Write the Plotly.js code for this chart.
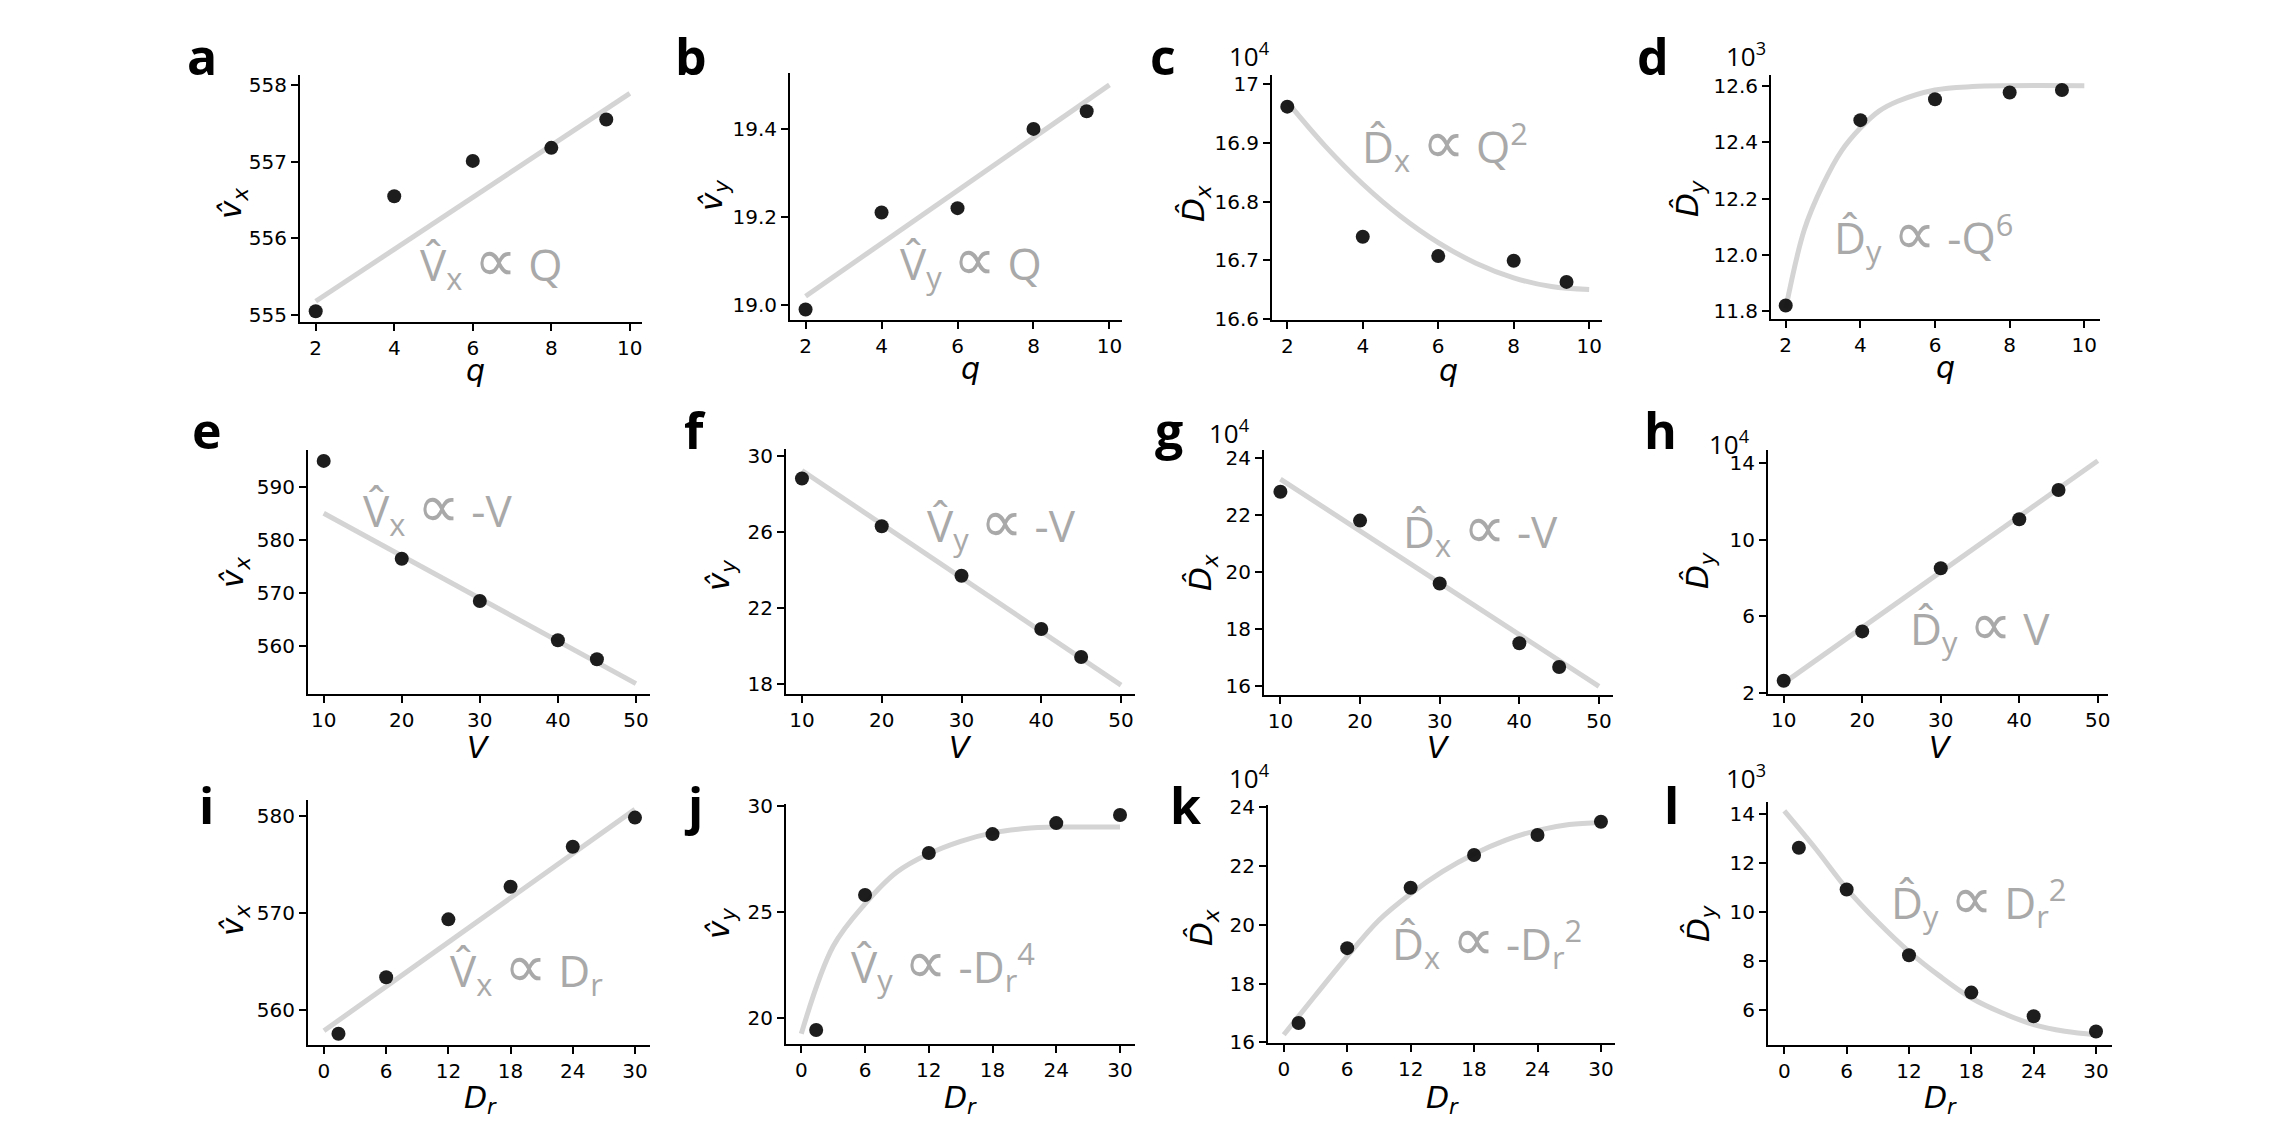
<!DOCTYPE html>
<html>
<head>
<meta charset="utf-8">
<script src="https://cdn.plot.ly/plotly-3.0.1.min.js"></script>
<style>html,body{margin:0;padding:0;background:#fff}</style>
</head>
<body>
<div id="fig" style="width:2293px;height:1138px"></div>
<script>
var W = 2293, H = 1138;

// parameter values on the x axes
var qVals = [2, 4, 6, 8, 9.4];
var vVals = [10, 20, 30, 40, 45];
var drVals = [1.4, 6, 12, 18, 24, 30];

// measured estimates (dots)
var vxQ = [555.05, 556.55, 557.01, 557.18, 557.55];
var vyQ = [18.99, 19.21, 19.22, 19.40, 19.44];
var dxQ = [16.962, 16.740, 16.707, 16.699, 16.663];
var dyQ = [11.821, 12.478, 12.552, 12.576, 12.585];
var vxV = [595.0, 576.5, 568.5, 561.1, 557.5];
var vyV = [28.84, 26.32, 23.72, 20.91, 19.44];
var dxV = [22.81, 21.80, 19.60, 17.51, 16.68];
var dyV = [2.64, 5.22, 8.52, 11.08, 12.61];
var vxDr = [557.6, 563.4, 569.35, 572.7, 576.8, 579.8];
var vyDr = [19.45, 25.82, 27.80, 28.69, 29.21, 29.59];
var dxDr = [16.66, 19.20, 21.25, 22.36, 23.04, 23.49];
var dyDr = [12.61, 10.91, 8.24, 6.72, 5.76, 5.14];

// fitted trend lines (grey)
var fitQLin = [2, 10];
var fitVxQ = [555.18, 557.89];
var fitVyQ = [19.02, 19.50];
var fitQCurve = [2, 3, 4, 5, 6, 7, 8, 9, 10];
var fitDxQ = [16.97, 16.895, 16.83, 16.775, 16.73, 16.695, 16.67, 16.655, 16.65];
var fitQCurve2 = [2, 2.5, 3, 3.5, 4, 4.5, 5, 6, 7, 8, 10];
var fitDyQ = [11.81, 12.09, 12.25, 12.37, 12.45, 12.51, 12.545, 12.585, 12.597, 12.6, 12.6];
var fitVLin = [10, 50];
var fitVxV = [585.1, 552.9];
var fitVyV = [29.26, 17.96];
var fitDxV = [23.25, 16.0];
var fitDyV = [2.52, 14.14];
var fitDrLin = [0, 30];
var fitVxDr = [557.9, 580.65];
var fitDrCurve = [0, 3, 6, 9, 12, 15, 18, 21, 24, 27, 30];
var fitVyDr = [19.27, 23.4, 25.4, 26.9, 27.76, 28.35, 28.75, 28.95, 29.02, 29.02, 29.02];
var fitDxDr = [16.26, 17.6, 18.92, 20.15, 21.05, 21.8, 22.4, 22.87, 23.2, 23.4, 23.47];
var fitDyDr = [14.11, 12.58, 10.95, 9.59, 8.39, 7.38, 6.5, 5.89, 5.42, 5.15, 5.01];

// tick labels
var qTicks = [2, 4, 6, 8, 10];
var vTicks = [10, 20, 30, 40, 50];
var drTicks = [0, 6, 12, 18, 24, 30];
var vxQTicks = [555, 556, 557, 558];
var vyQTicks = [19.0, 19.2, 19.4];
var vyQText = ['19.0', '19.2', '19.4'];
var dxQTicks = [16.6, 16.7, 16.8, 16.9, 17];
var dxQText = ['16.6', '16.7', '16.8', '16.9', '17'];
var dyQTicks = [11.8, 12.0, 12.2, 12.4, 12.6];
var dyQText = ['11.8', '12.0', '12.2', '12.4', '12.6'];
var vxVTicks = [560, 570, 580, 590];
var vyVTicks = [18, 22, 26, 30];
var dxVTicks = [16, 18, 20, 22, 24];
var dyVTicks = [2, 6, 10, 14];
var vxDrTicks = [560, 570, 580];
var vyDrTicks = [20, 25, 30];
var dxDrTicks = [16, 18, 20, 22, 24];
var dyDrTicks = [6, 8, 10, 12, 14];

var VX = '<i>v\u0302</i><sub><i>x</i></sub>';
var VY = '<i>v\u0302</i><sub><i>y</i></sub>';
var DX = '<i>D\u0302</i><sub><i>x</i></sub>';
var DY = '<i>D\u0302</i><sub><i>y</i></sub>';
var XQ = '<i>q</i>', XV = '<i>V</i>', XDR = '<i>D</i><sub><i>r</i></sub>';
var PROP = ' <span style="font-size:60px;font-weight:300">\u221D</span> ';

var panels = [
  {tag:'a', xs:qVals, ys:vxQ, fx:fitQLin, fy:fitVxQ, box:[300,642,75,322], xr:[1.6,10.31], yr:[554.91,558.13], xt:qTicks, yt:vxQTicks, ylab:VX, xlab:XQ, eq:'V\u0302<sub>x</sub>' + PROP + 'Q', eqAt:[4.61,555.67], ylabAt:[232,203], xlabAt:[475,370], tagAt:[185,56]},
  {tag:'b', xs:qVals, ys:vyQ, fx:fitQLin, fy:fitVyQ, box:[790,1122,73,320], xr:[1.59,10.33], yr:[18.966,19.527], xt:qTicks, yt:vyQTicks, ytt:vyQText, ylab:VY, xlab:XQ, eq:'V\u0302<sub>y</sub>' + PROP + 'Q', eqAt:[4.44,19.095], ylabAt:[713,195], xlabAt:[970,369], tagAt:[673,56]},
  {tag:'c', xs:qVals, ys:dxQ, fx:fitQCurve, fy:fitDxQ, spline:true, box:[1272,1602,75,320], xr:[1.595,10.34], yr:[16.598,17.016], xt:qTicks, yt:dxQTicks, ytt:dxQText, ylab:DX, xlab:XQ, eq:'D\u0302<sub>x</sub>' + PROP + 'Q<sup>2</sup>', eqAt:[3.93,16.895], ylabAt:[1195,203], xlabAt:[1448,370], tagAt:[1148,56], exp:'10<sup>4</sup>', expAt:[1272,55]},
  {tag:'d', xs:qVals, ys:dyQ, fx:fitQCurve2, fy:fitDyQ, spline:true, box:[1771,2100,75,319], xr:[1.606,10.42], yr:[11.773,12.638], xt:qTicks, yt:dyQTicks, ytt:dyQText, ylab:DY, xlab:XQ, eq:'D\u0302<sub>y</sub>' + PROP + '-Q<sup>6</sup>', eqAt:[3.23,12.065], ylabAt:[1690,198], xlabAt:[1945,367], tagAt:[1635,56], exp:'10<sup>3</sup>', expAt:[1768,55]},
  {tag:'e', xs:vVals, ys:vxV, fx:fitVLin, fy:fitVxV, box:[308,650,450,694], xr:[7.99,51.8], yr:[550.93,597.06], xt:vTicks, yt:vxVTicks, ylab:VX, xlab:XV, eq:'V\u0302<sub>x</sub>' + PROP + '-V', eqAt:[14.83,585.7], ylabAt:[234,572], xlabAt:[478,747], tagAt:[190,430]},
  {tag:'f', xs:vVals, ys:vyV, fx:fitVLin, fy:fitVyV, box:[786,1135,449,694], xr:[8.0,51.75], yr:[17.49,30.39], xt:vTicks, yt:vyVTicks, ylab:VY, xlab:XV, eq:'V\u0302<sub>y</sub>' + PROP + '-V', eqAt:[25.45,26.4], ylabAt:[720,575], xlabAt:[960,747], tagAt:[682,430]},
  {tag:'g', xs:vVals, ys:dxV, fx:fitVLin, fy:fitDxV, box:[1264,1613,450,695], xr:[7.94,51.76], yr:[15.70,24.27], xt:vTicks, yt:dxVTicks, ylab:DX, xlab:XV, eq:'D\u0302<sub>x</sub>' + PROP + '-V', eqAt:[25.2,21.42], ylabAt:[1202,572], xlabAt:[1438,747], tagAt:[1153,430], exp:'10<sup>4</sup>', expAt:[1252,432]},
  {tag:'h', xs:vVals, ys:dyV, fx:fitVLin, fy:fitDyV, box:[1768,2108,450,694], xr:[8.0,51.3], yr:[1.95,14.70], xt:vTicks, yt:dyVTicks, ylab:DY, xlab:XV, eq:'D\u0302<sub>y</sub>' + PROP + 'V', eqAt:[25.87,5.39], ylabAt:[1699,570], xlabAt:[1940,747], tagAt:[1642,430], exp:'10<sup>4</sup>', expAt:[1752,443]},
  {tag:'i', xs:drVals, ys:vxDr, fx:fitDrLin, fy:fitVxDr, box:[308,650,800,1045], xr:[-1.54,31.45], yr:[556.44,581.61], xt:drTicks, yt:vxDrTicks, ylab:VX, xlab:XDR, eq:'V\u0302<sub>x</sub>' + PROP + 'D<sub>r</sub>', eqAt:[12.0,564.14], ylabAt:[234,920], xlabAt:[480,1099], tagAt:[197,805]},
  {tag:'j', xs:drVals, ys:vyDr, fx:fitDrCurve, fy:fitVyDr, spline:true, box:[786,1135,804,1044], xr:[-1.44,31.41], yr:[18.79,30.11], xt:drTicks, yt:vyDrTicks, ylab:VY, xlab:XDR, eq:'V\u0302<sub>y</sub>' + PROP + '-D<sub>r</sub><sup>4</sup>', eqAt:[4.45,22.45], ylabAt:[720,923], xlabAt:[960,1099], tagAt:[682,805]},
  {tag:'k', xs:drVals, ys:dxDr, fx:fitDrCurve, fy:fitDxDr, spline:true, box:[1268,1615,805,1043], xr:[-1.49,31.33], yr:[15.98,24.06], xt:drTicks, yt:dxDrTicks, ylab:DX, xlab:XDR, eq:'D\u0302<sub>x</sub>' + PROP + '-D<sub>r</sub><sup>2</sup>', eqAt:[10.03,19.38], ylabAt:[1203,927], xlabAt:[1442,1099], tagAt:[1168,805], exp:'10<sup>4</sup>', expAt:[1272,777]},
  {tag:'l', xs:drVals, ys:dyDr, fx:fitDrCurve, fy:fitDyDr, spline:true, box:[1768,2112,802,1045], xr:[-1.57,31.54], yr:[4.59,14.47], xt:drTicks, yt:dyDrTicks, ylab:DY, xlab:XDR, eq:'D\u0302<sub>y</sub>' + PROP + 'D<sub>r</sub><sup>2</sup>', eqAt:[10.04,10.41], ylabAt:[1700,923], xlabAt:[1940,1099], tagAt:[1662,805], exp:'10<sup>3</sup>', expAt:[1768,777]}
];

function px(x) { return x / W; }
function py(y) { return 1 - y / H; }

var tickFont = {family:'DejaVu Sans', size:20, color:'#000'};
var data = [];
var layout = {
  width: W, height: H,
  margin: {l:0, r:0, t:0, b:0},
  paper_bgcolor: '#fff',
  plot_bgcolor: 'rgba(0,0,0,0)',
  showlegend: false,
  annotations: []
};

panels.forEach(function (p, i) {
  var n = i === 0 ? '' : String(i + 1);
  var axisStyle = {
    showline: true, linecolor: '#000', linewidth: 2,
    ticks: 'outside', ticklen: 7, tickwidth: 2, tickcolor: '#000',
    showgrid: false, zeroline: false, tickfont: tickFont, fixedrange: true
  };
  layout['xaxis' + n] = Object.assign({}, axisStyle, {
    domain: [px(p.box[0]), px(p.box[1])], range: p.xr, anchor: 'y' + n,
    tickvals: p.xt
  });
  layout['yaxis' + n] = Object.assign({}, axisStyle, {
    domain: [py(p.box[3]), py(p.box[2])], range: p.yr, anchor: 'x' + n,
    tickvals: p.yt, ticktext: p.ytt
  });

  data.push({
    x: p.fx, y: p.fy, xaxis: 'x' + n, yaxis: 'y' + n,
    mode: 'lines', hoverinfo: 'skip',
    line: {color: 'rgb(212,212,212)', width: 5, shape: p.spline ? 'spline' : 'linear'}
  });
  data.push({
    x: p.xs, y: p.ys, xaxis: 'x' + n, yaxis: 'y' + n,
    mode: 'markers',
    marker: {color: '#111', size: 14, opacity: 0.95}
  });

  // equation text inside the plot
  layout.annotations.push({
    xref: 'x' + n, yref: 'y' + n, x: p.eqAt[0], y: p.eqAt[1],
    xanchor: 'left', yanchor: 'middle', showarrow: false, yshift: 6,
    text: p.eq, font: {family: 'Open Sans', size: 44, color: '#a9a9a9'}
  });
  // panel letter
  layout.annotations.push({
    xref: 'paper', yref: 'paper', x: px(p.tagAt[0]), y: py(p.tagAt[1]),
    xanchor: 'left', yanchor: 'middle', showarrow: false,
    text: '<b>' + p.tag + '</b>', font: {family: 'Open Sans', size: 50, color: '#000'}
  });
  // axis titles
  layout.annotations.push({
    xref: 'paper', yref: 'paper', x: px(p.ylabAt[0]), y: py(p.ylabAt[1]),
    xanchor: 'center', yanchor: 'middle', showarrow: false, textangle: -90,
    text: p.ylab, font: {family: 'DejaVu Sans', size: 31, color: '#000'}
  });
  layout.annotations.push({
    xref: 'paper', yref: 'paper', x: px(p.xlabAt[0]), y: py(p.xlabAt[1]),
    xanchor: 'center', yanchor: 'middle', showarrow: false,
    text: p.xlab, font: {family: 'DejaVu Sans', size: 30, color: '#000'}
  });
  if (p.exp) {
    layout.annotations.push({
      xref: 'paper', yref: 'paper', x: px(p.expAt[0]), y: py(p.expAt[1]),
      xanchor: 'right', yanchor: 'middle', showarrow: false,
      text: p.exp, font: {family: 'Open Sans', size: 26, color: '#000'}
    });
  }
});

Plotly.newPlot('fig', data, layout, {displayModeBar: false, staticPlot: true});
</script>
</body>
</html>
